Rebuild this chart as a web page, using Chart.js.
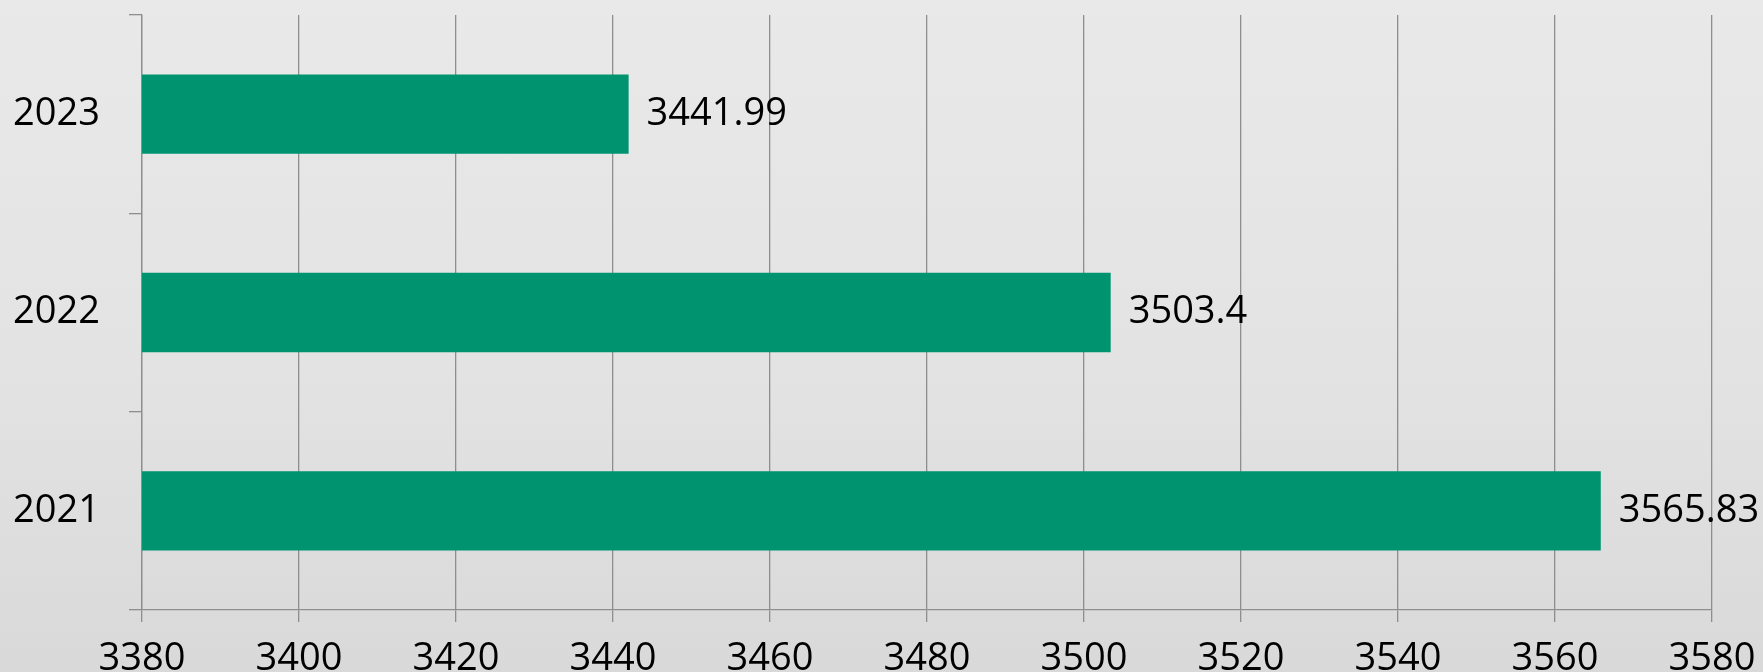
<!DOCTYPE html>
<html lang="en">
<head>
  <meta charset="utf-8">
  <title>Yearly values</title>
  <style>
    * { box-sizing: border-box; margin: 0; padding: 0; }
    html, body { width: 1763px; height: 672px; overflow: hidden; }
    body { background: linear-gradient(to bottom, #e9e9e9 0%, #e3e3e3 55%, #d9d9d9 100%); }
    #wrap { position: relative; width: 1763px; height: 672px; }
  </style>
  <script src="https://cdn.jsdelivr.net/npm/chart.js"></script>
</head>
<body>
  <div id="wrap"><canvas id="chart" width="1763" height="672"></canvas></div>
  <script>
    // data (bottom to top as in the picture)
    const years = ['2021', '2022', '2023'];
    const values = [3565.83, 3503.4, 3441.99];
    const xMin = 3380, xMax = 3580, xStep = 20;

    const barColor = '#009370';
    const lineColor = '#8e8e8e';
    const fontFamily = "'Open Sans', sans-serif";
    const fontSize = 38;

    // value label to the right of each bar
    const valueLabels = {
      id: 'valueLabels',
      afterDatasetsDraw(chart) {
        const ctx = chart.ctx;
        const meta = chart.getDatasetMeta(0);
        ctx.save();
        ctx.font = fontSize + 'px ' + fontFamily;
        ctx.fillStyle = '#000';
        ctx.textAlign = 'left';
        ctx.textBaseline = 'middle';
        meta.data.forEach((bar, i) => {
          ctx.fillText(String(values[i]), bar.x + 18, bar.y);
        });
        ctx.restore();
      }
    };

    new Chart(document.getElementById('chart'), {
      type: 'bar',
      data: {
        labels: years,
        datasets: [{
          data: values,
          backgroundColor: barColor,
          borderWidth: 0,
          barPercentage: 0.4,
          categoryPercentage: 1
        }]
      },
      options: {
        indexAxis: 'y',
        responsive: false,
        animation: false,
        devicePixelRatio: 1,
        layout: { padding: { top: 15, right: 51, left: 0, bottom: 0 } },
        plugins: { legend: { display: false }, tooltip: { enabled: false } },
        scales: {
          x: {
            min: xMin, max: xMax,
            afterFit(s) { s.height = 62; s.paddingLeft = 0; s.paddingRight = 0; },
            ticks: { stepSize: xStep, color: '#000', padding: 14, font: { family: fontFamily, size: fontSize },
                     callback: v => String(v) },
            grid: { color: lineColor, lineWidth: 1.3, tickLength: 12 },
            border: { color: lineColor, width: 1.3 }
          },
          y: {
            reverse: true,
            afterFit(s) { s.width = 142; s.paddingTop = 0; s.paddingBottom = 0; },
            ticks: { color: '#000', padding: 29, font: { family: fontFamily, size: fontSize } },
            grid: { drawOnChartArea: false, offset: true, color: lineColor, lineWidth: 1.3, tickLength: 13 },
            border: { color: lineColor, width: 1.3 }
          }
        }
      },
      plugins: [valueLabels]
    });
  </script>
</body>
</html>
